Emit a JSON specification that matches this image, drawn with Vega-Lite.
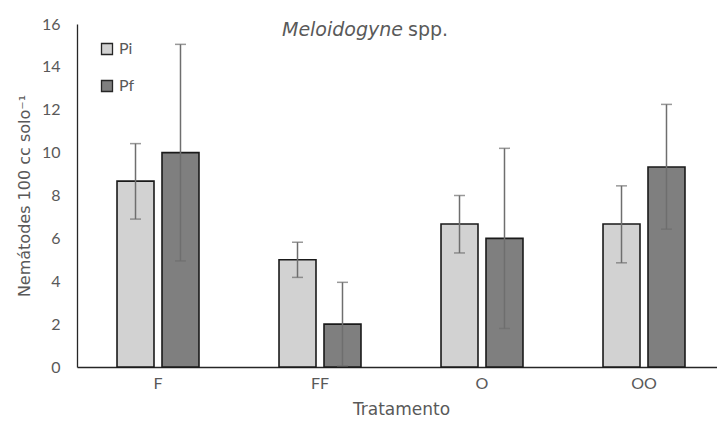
{
  "$schema": "https://vega.github.io/schema/vega-lite/v6.json",
  "autosize": {"type": "none"},
  "width": 640,
  "height": 343,
  "padding": {"left": 77, "top": 24, "right": 0, "bottom": 65},
  "background": "white",
  "config": {
    "view": {"stroke": null},
    "font": "Lato",
    "axis": {
      "grid": false,
      "ticks": false,
      "domainColor": "#262626",
      "domainWidth": 1.3,
      "labelFont": "Lato",
      "labelColor": "#595959",
      "labelFontSize": 16,
      "titleFont": "DejaVu Sans",
      "titleColor": "#595959",
      "titleFontWeight": "normal"
    }
  },
  "data": {
    "values": [
      {"Tratamento": "F", "Serie": "Pi", "valor": 8.67, "min": 6.9, "max": 10.42},
      {"Tratamento": "F", "Serie": "Pf", "valor": 10.0, "min": 4.95, "max": 15.05},
      {"Tratamento": "FF", "Serie": "Pi", "valor": 5.0, "min": 4.18, "max": 5.82},
      {"Tratamento": "FF", "Serie": "Pf", "valor": 2.0, "min": 0.05, "max": 3.95},
      {"Tratamento": "O", "Serie": "Pi", "valor": 6.67, "min": 5.32, "max": 8.0},
      {"Tratamento": "O", "Serie": "Pf", "valor": 6.0, "min": 1.8, "max": 10.2},
      {"Tratamento": "OO", "Serie": "Pi", "valor": 6.67, "min": 4.86, "max": 8.45},
      {"Tratamento": "OO", "Serie": "Pf", "valor": 9.33, "min": 6.43, "max": 12.25}
    ]
  },
  "encoding": {
    "x": {
      "field": "Tratamento",
      "type": "nominal",
      "sort": ["F", "FF", "O", "OO"],
      "scale": {"range": [0, 648], "paddingInner": 0.494, "paddingOuter": 0.247},
      "axis": {"labelAngle": 0, "labelPadding": 8, "titlePadding": 10, "titleFontSize": 17, "title": "Tratamento"}
    },
    "xOffset": {
      "field": "Serie",
      "type": "nominal",
      "scale": {"domain": ["Pi", "Pf"], "paddingInner": 0.178, "paddingOuter": 0}
    }
  },
  "layer": [
    {
      "mark": {"type": "bar", "stroke": "#1a1a1a", "strokeWidth": 1.6},
      "encoding": {
        "y": {
          "field": "valor",
          "type": "quantitative",
          "scale": {"domain": [0, 16], "nice": false},
          "axis": {"values": [0, 2, 4, 6, 8, 10, 12, 14, 16], "labelPadding": 17, "titlePadding": 9, "titleFontSize": 16, "title": "Nemátodes  100 cc solo⁻¹"}
        },
        "fill": {
          "field": "Serie",
          "type": "nominal",
          "scale": {"domain": ["Pi", "Pf"], "range": ["#d2d2d2", "#7f7f7f"]},
          "legend": {
            "title": null,
            "orient": "none",
            "legendX": 22,
            "legendY": 17,
            "padding": 0,
            "symbolType": "square",
            "symbolSize": 121,
            "symbolStrokeColor": "#262626",
            "symbolStrokeWidth": 1.3,
            "rowPadding": 19,
            "labelOffset": 4,
            "labelFont": "Lato",
            "labelFontSize": 16,
            "labelColor": "#595959"
          }
        }
      }
    },
    {
      "mark": {"type": "rule", "color": "#6e6e6e", "strokeWidth": 1.5},
      "encoding": {
        "y": {"field": "min", "type": "quantitative"},
        "y2": {"field": "max"}
      }
    },
    {
      "mark": {"type": "tick", "color": "#6e6e6e", "thickness": 1.5, "size": 11},
      "encoding": {"y": {"field": "max", "type": "quantitative"}}
    },
    {
      "mark": {"type": "tick", "color": "#6e6e6e", "thickness": 1.5, "size": 11},
      "encoding": {"y": {"field": "min", "type": "quantitative"}}
    },
    {
      "data": {"values": [{"nome": "Meloidogyne"}]},
      "mark": {"type": "text", "align": "right", "baseline": "middle", "dx": -79, "fontSize": 19, "fontStyle": "italic", "color": "#595959", "font": "DejaVu Sans"},
      "encoding": {
        "x": {"datum": "O"},
        "xOffset": null,
        "y": {"datum": 15.7},
        "text": {"field": "nome"}
      }
    },
    {
      "data": {"values": [{"nome": "spp."}]},
      "mark": {"type": "text", "align": "left", "baseline": "middle", "dx": -74, "fontSize": 19, "color": "#595959", "font": "DejaVu Sans"},
      "encoding": {
        "x": {"datum": "O"},
        "xOffset": null,
        "y": {"datum": 15.7},
        "text": {"field": "nome"}
      }
    }
  ]
}
